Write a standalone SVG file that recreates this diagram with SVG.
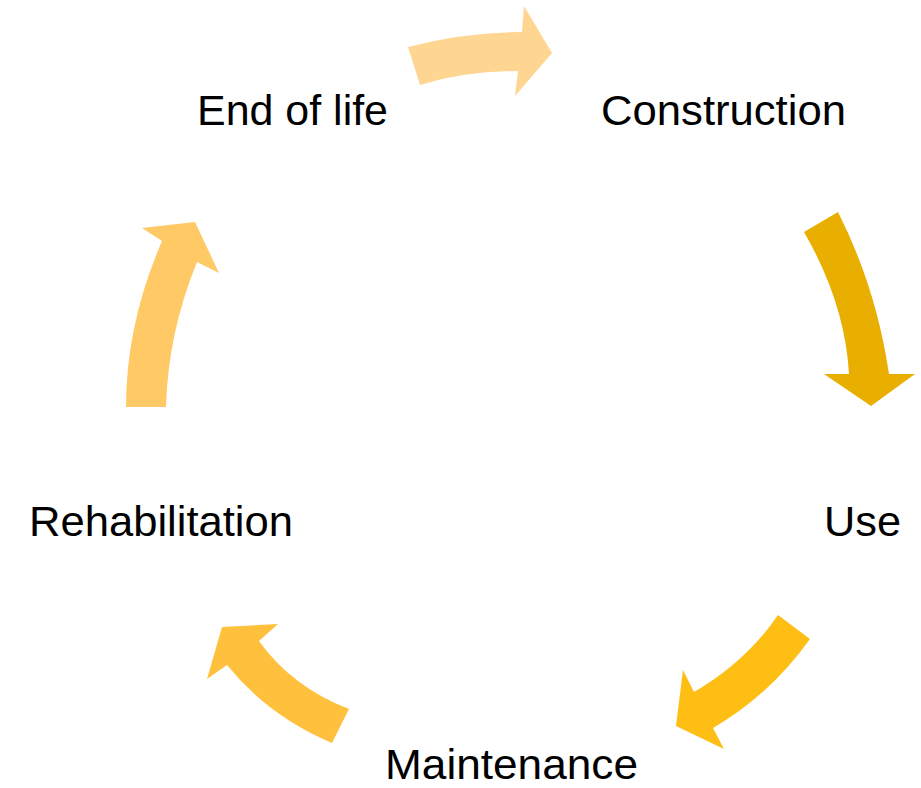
<svg xmlns="http://www.w3.org/2000/svg" width="921" height="788" viewBox="0 0 921 788">
<style>
.lbl{font-family:"Liberation Sans",Arial,sans-serif;font-size:43px;fill:#000}
</style>
<rect width="921" height="788" fill="#fff"/>
<g id="connectors">
<path id="arrow-endoflife-construction" fill="#FFD592" d="M408,47 Q465,32 522,32 L524,6 L552,53 L515,96 L518,71 Q465,71 420,85 Z"/>
<path id="arrow-construction-use" fill="#E8AE00" d="M804,232 L838,212 Q876,287 889,374 L915,374 L871,406 L824,374 L849,374 Q845,303 804,232 Z"/>
<path id="arrow-use-maintenance" fill="#FFBE14" d="M778,615 L810,639 Q770,695 713,728 L724,749 L676,726 L683,670 L694,692 Q746,662 778,615 Z"/>
<path id="arrow-maintenance-rehabilitation" fill="#FFC13D" d="M349,709 L332,743 Q268,716 227,665 L207,679 L222,627 L278,624 L259,641 Q292,687 349,709 Z"/>
<path id="arrow-rehabilitation-endoflife" fill="#FFC966" d="M126,407 L166,407 Q168,333 197,262 L219,273 L195,222 L142,228 L162,241 Q126,324 126,407 Z"/>
</g>
<g id="node-endoflife"><text class="lbl" x="197" y="125" textLength="191" lengthAdjust="spacingAndGlyphs">End of life</text></g>
<g id="node-construction"><text class="lbl" x="601" y="125" textLength="245" lengthAdjust="spacingAndGlyphs">Construction</text></g>
<g id="node-use"><text class="lbl" x="824" y="536" textLength="77" lengthAdjust="spacingAndGlyphs">Use</text></g>
<g id="node-maintenance"><text class="lbl" x="385" y="779" textLength="253" lengthAdjust="spacingAndGlyphs">Maintenance</text></g>
<g id="node-rehabilitation"><text class="lbl" x="29" y="536" textLength="264" lengthAdjust="spacingAndGlyphs">Rehabilitation</text></g>
</svg>
